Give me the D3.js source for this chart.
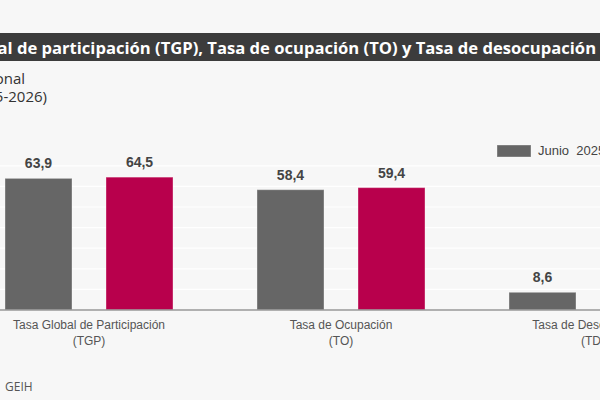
<!DOCTYPE html>
<html>
<head>
<meta charset="utf-8">
<script src="https://cdn.jsdelivr.net/npm/d3@7"></script>
<style>
  body { margin: 0; background: #f7f7f7; }
  svg { display: block; }
</style>
</head>
<body>
<div id="container"></div>
<script>
/* DATA */
const categories = ["Tasa Global de Participación|(TGP)", "Tasa de Ocupación|(TO)", "Tasa de Desocupación|(TD)"];
const seriesNames = ["Junio  2025", "Junio  2026"];
const values2025 = [63.9, 58.4, 8.6];
const values2026 = [64.5, 59.4, 8.0];
const yTicks = [0, 10, 20, 30, 40, 50, 60, 70];

const titleText = "Tasa Global de participación (TGP), Tasa de ocupación (TO) y Tasa de desocupación (TD)";
const titleHidden = "Tasa Glob";   // falls off the left edge
const subtitleLines = ["Total nacional", "Junio (2025-2026)"];
const sourceText = "GEIH";

/* CONSTANTS */
const width = 600, height = 400;
const colors = ["#666666", "#b8004c"];
const locale = d3.formatLocale({decimal: ",", thousands: ".", grouping: [3], currency: ["$", ""]});
const fmt = locale.format(".1f");

const rows = categories.map((c, i) => ({cat: c, vals: [values2025[i], values2026[i]]}));

const svg = d3.select("#container")
  .append("svg")
  .attr("width", width)
  .attr("height", height);

svg.append("rect")
  .attr("width", width).attr("height", height)
  .attr("fill", "#f7f7f7");

// TITLE BAR
svg.append("rect")
  .attr("x", 0).attr("y", 33)
  .attr("width", width).attr("height", 28)
  .attr("fill", "#3c3c3c");

const title = svg.append("text")
  .attr("y", 54)
  .attr("fill", "#ffffff")
  .style("font", "bold 16.6px 'Open Sans'")
  .text(titleHidden);
const hiddenW = title.node().getComputedTextLength();
title.attr("x", -2.5 - hiddenW).text(titleText);

// SUBTITLE (right ends line up with the crop)
svg.selectAll("text.sub")
  .data(subtitleLines)
  .join("text")
  .attr("class", "sub")
  .attr("x", (d, i) => i === 0 ? 25 : 47)
  .attr("y", (d, i) => 84 + i * 18)
  .attr("text-anchor", "end")
  .attr("fill", "#333")
  .style("font", "15px 'Open Sans'")
  .text(d => d);

// SCALES
const x0 = d3.scaleBand()
  .domain(categories)
  .range([89 - 126, 89 - 126 + 252 * categories.length])
  .padding(0);

const x1 = d3.scaleBand()
  .domain(seriesNames)
  .range([0, x0.bandwidth()])
  .paddingInner(0.3366)
  .paddingOuter(0.4158);

const yScale = d3.scaleLinear()
  .domain([0, 70])
  .range([310, 165.8]);

// GRIDLINES
svg.append("g")
  .selectAll("line")
  .data(yTicks.slice(1))
  .join("line")
  .attr("x1", 0).attr("x2", width)
  .attr("y1", d => yScale(d)).attr("y2", d => yScale(d))
  .attr("stroke", "#ffffff")
  .attr("stroke-width", 1.2);

// LEGEND
const legend = svg.append("g").attr("transform", "translate(497,145)");
legend.selectAll("g")
  .data(seriesNames)
  .join("g")
  .attr("transform", (d, i) => `translate(${i * 110},0)`)
  .each(function(d, i) {
    const g = d3.select(this);
    g.append("rect")
      .attr("width", 34).attr("height", 12)
      .attr("fill", colors[i])
      .attr("stroke", "#ffffff").attr("stroke-opacity", 0.35);
    g.append("text")
      .attr("x", 41).attr("y", 10)
      .attr("fill", "#444")
      .style("font", "13px 'Liberation Sans', Arial")
      .style("white-space", "pre")
      .text(d);
  });

// BARS
const groups = svg.append("g")
  .selectAll("g")
  .data(rows)
  .join("g")
  .attr("transform", d => `translate(${x0(d.cat)},0)`);

groups.selectAll("rect")
  .data(d => d.vals.map((v, i) => ({key: seriesNames[i], v, i})))
  .join("rect")
  .attr("x", d => x1(d.key))
  .attr("width", x1.bandwidth())
  .attr("y", d => yScale(d.v))
  .attr("height", d => yScale(0) - yScale(d.v))
  .attr("fill", d => colors[d.i])
  .attr("stroke", "#ffffff")
  .attr("stroke-opacity", 0.35);

groups.selectAll("text")
  .data(d => d.vals.map((v, i) => ({key: seriesNames[i], v, i})))
  .join("text")
  .attr("x", d => x1(d.key) + x1.bandwidth() / 2)
  .attr("y", d => yScale(d.v) - 10)
  .attr("text-anchor", "middle")
  .attr("fill", "#444")
  .style("font", "bold 14px 'Liberation Sans', Arial")
  .text(d => fmt(d.v));

// X AXIS
const xAxis = d3.axisBottom(x0).tickSize(0).tickFormat("");
const axisG = svg.append("g")
  .attr("transform", `translate(0,${yScale(0)})`)
  .call(xAxis);
axisG.select(".domain")
  .attr("stroke", "#999")
  .attr("stroke-width", 1.5)
  .attr("d", `M0,0H${width}`);

axisG.selectAll(".tick")
  .each(function(d) {
    const t = d3.select(this).append("text")
      .attr("text-anchor", "middle")
      .attr("fill", "#555")
      .style("font", "12px 'Liberation Sans', Arial");
    d.split("|").forEach((line, i) => {
      t.append("tspan").attr("x", 0).attr("y", 19 + i * 16).text(line);
    });
  });

// SOURCE
svg.append("text")
  .attr("x", 5).attr("y", 391)
  .attr("fill", "#555")
  .style("font", "12px 'Open Sans'")
  .text(sourceText);
</script>
</body>
</html>
